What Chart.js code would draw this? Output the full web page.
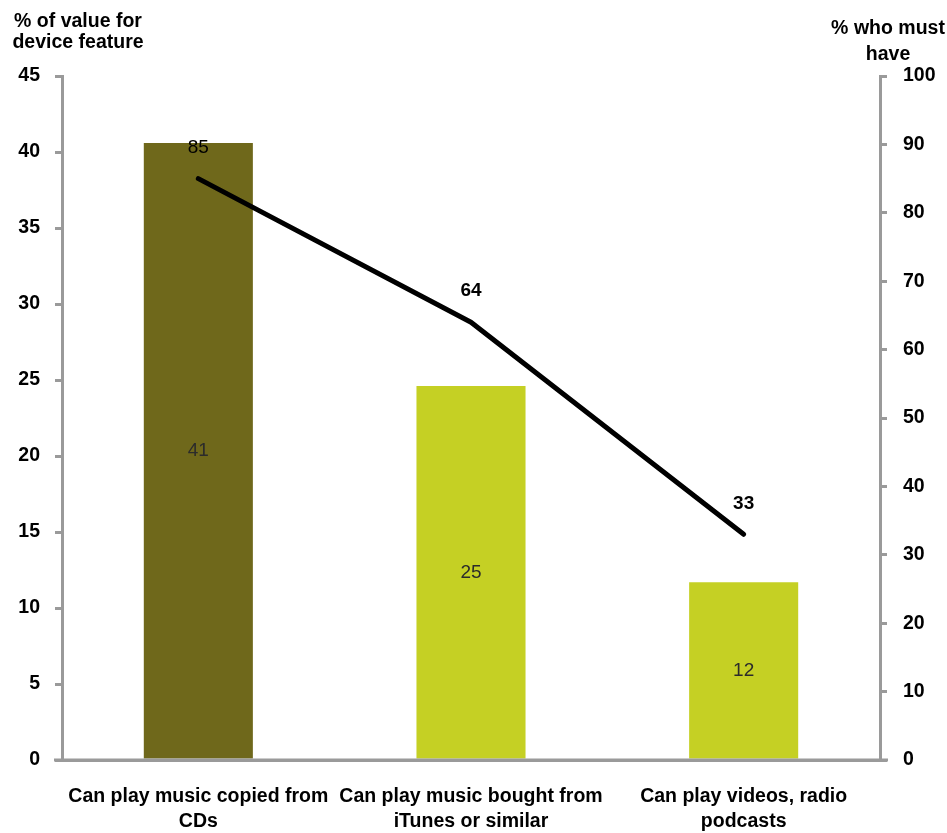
<!DOCTYPE html>
<html>
<head>
<meta charset="utf-8">
<script src="https://cdn.jsdelivr.net/npm/chart.js@4/dist/chart.umd.min.js"></script>
<style>
  html, body { margin: 0; padding: 0; background: #ffffff; }
  canvas { display: block; }
</style>
</head>
<body>
<canvas id="c" width="947" height="833"></canvas>
<script>
const categories = [
  ["Can play music copied from", "CDs"],
  ["Can play music bought from", "iTunes or similar"],
  ["Can play videos, radio", "podcasts"]
];
const valueShare = [40.6, 24.6, 11.7];   // % of value for device feature (left axis)
const mustHave = [85, 64, 33];            // % who must have (right axis)
const barColors = ["#6F681B", "#C5D024", "#C5D024"];
const leftTitle = ["% of value for", "device feature"];
const rightTitle = ["% who must", "have"];

const FONT = "'Liberation Sans', Arial, sans-serif";
const AXIS_GREY = "#9a9a9a";
const FS = 19.5;

const labelPlugin = {
  id: 'labels',
  afterDatasetsDraw(chart) {
    const ctx = chart.ctx;
    ctx.save();
    ctx.textAlign = 'center';
    ctx.textBaseline = 'middle';
    const barMeta = chart.getDatasetMeta(0);
    barMeta.data.forEach((el, i) => {
      ctx.font = "19px " + FONT;
      ctx.fillStyle = "#2b2b2b";
      ctx.fillText(String(Math.round(valueShare[i])), el.x, (el.y + el.base) / 2);
    });
    const lineMeta = chart.getDatasetMeta(1);
    lineMeta.data.forEach((el, i) => {
      ctx.font = (i === 0 ? "" : "bold ") + "19px " + FONT;
      ctx.fillStyle = "#000";
      ctx.fillText(String(mustHave[i]), el.x, el.y - 31);
    });
    ctx.restore();
  },
  afterDraw(chart) {
    const ctx = chart.ctx;
    const xs = chart.scales.x;
    ctx.save();
    ctx.strokeStyle = AXIS_GREY;
    ctx.lineWidth = 3;
    ctx.beginPath();
    ctx.moveTo(xs.left - 8, xs.top);
    ctx.lineTo(xs.right + 8, xs.top);
    ctx.stroke();
    ctx.fillStyle = "#000";
    ctx.font = "bold " + FS + "px " + FONT;
    ctx.textAlign = 'center';
    ctx.textBaseline = 'middle';
    ctx.fillText(leftTitle[0], 78, 22);
    ctx.fillText(leftTitle[1], 78, 43);
    ctx.fillText(rightTitle[0], 888, 29);
    ctx.fillText(rightTitle[1], 888, 55);
    ctx.restore();
  }
};

new Chart(document.getElementById('c'), {
  data: {
    labels: categories,
    datasets: [
      {
        type: 'bar',
        data: valueShare,
        backgroundColor: barColors,
        yAxisID: 'y',
        order: 2,
        categoryPercentage: 1.0,
        barPercentage: 0.4
      },
      {
        type: 'line',
        data: mustHave,
        borderColor: '#000',
        borderWidth: 5,
        borderCapStyle: 'round',
        borderJoinStyle: 'round',
        pointRadius: 0,
        tension: 0,
        yAxisID: 'y1',
        order: 1
      }
    ]
  },
  options: {
    responsive: false,
    animation: false,
    devicePixelRatio: 1,
    layout: { padding: { top: 76, left: 0, right: 0, bottom: 0 } },
    plugins: { legend: { display: false }, tooltip: { enabled: false } },
    scales: {
      x: {
        type: 'category',
        offset: true,
        grid: { display: false, drawTicks: false },
        border: { display: true, color: AXIS_GREY, width: 3 },
        ticks: {
          color: '#000',
          font: { family: FONT, size: FS, weight: 'bold', lineHeight: 1.3 },
          padding: 24,
          maxRotation: 0,
          autoSkip: false
        },
        afterFit(s) { s.height = 73; }
      },
      y: {
        position: 'left',
        min: 0,
        max: 45,
        ticks: {
          stepSize: 5,
          color: '#000',
          font: { family: FONT, size: FS, weight: 'bold' },
          padding: 15
        },
        grid: { drawOnChartArea: false, drawTicks: true, tickLength: 7, color: AXIS_GREY, lineWidth: 3 },
        border: { display: true, color: AXIS_GREY, width: 3 },
        afterFit(s) { s.width = 62; }
      },
      y1: {
        position: 'right',
        min: 0,
        max: 100,
        ticks: {
          stepSize: 10,
          color: '#000',
          font: { family: FONT, size: FS, weight: 'bold' },
          padding: 16
        },
        grid: { drawOnChartArea: false, drawTicks: true, tickLength: 7, color: AXIS_GREY, lineWidth: 3 },
        border: { display: true, color: AXIS_GREY, width: 3 },
        afterFit(s) { s.width = 67; }
      }
    }
  },
  plugins: [labelPlugin]
});
</script>
</body>
</html>
